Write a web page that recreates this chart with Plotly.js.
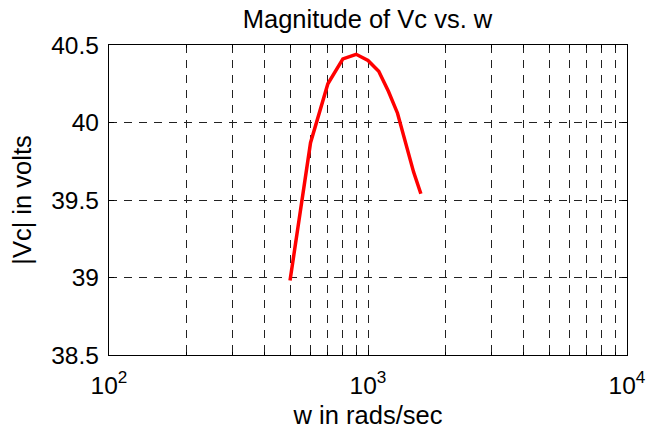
<!DOCTYPE html>
<html>
<head>
<meta charset="utf-8">
<script src="https://cdn.plot.ly/plotly-3.0.1.min.js"></script>
<style>html,body{margin:0;padding:0;background:#fff;} #plot{width:647px;height:432px;}</style>
</head>
<body>
<div id="plot"></div>
<script>
// Data
const wValues = [500, 600, 700, 800, 900, 1000, 1100, 1200, 1300, 1400, 1500, 1600];
const vcValues = [38.98, 39.87, 40.25, 40.41, 40.44, 40.40, 40.33, 40.20, 40.06, 39.87, 39.68, 39.54];
const xMajorTicks = [100, 1000, 10000];
const xMajorText = ['10<sup>2</sup>', '10<sup>3</sup>', '10<sup>4</sup>'];
const xMinorTicks = [200, 300, 400, 500, 600, 700, 800, 900, 2000, 3000, 4000, 5000, 6000, 7000, 8000, 9000];
const yTicks = [38.5, 39, 39.5, 40, 40.5];
const yTickText = ['38.5', '39', '39.5', '40', '40.5'];

const FONT = 'Liberation Sans, Arial, Helvetica, sans-serif';
const gridDash = '8px,7px';
const TICKSIZE = 24.5;
const TITLESIZE = 25.5;

const trace = {
  x: wValues, y: vcValues, type: 'scatter', mode: 'lines',
  line: {color: '#ff0000', width: 3.5}, showlegend: false, hoverinfo: 'skip'
};

const layout = {
  width: 647, height: 432,
  paper_bgcolor: '#ffffff', plot_bgcolor: '#ffffff',
  margin: {l: 109, r: 20, t: 45, b: 77, pad: 0},
  font: {family: FONT, size: TICKSIZE, color: '#000'},
  title: {text: 'Magnitude of Vc vs. w', font: {family: FONT, size: TITLESIZE, color: '#000'},
          x: 0.568, xanchor: 'center', y: 0.955, yanchor: 'middle'},
  xaxis: {
    type: 'log', range: [2, 4], autorange: false,
    tickmode: 'array', tickvals: xMajorTicks, ticktext: xMajorText,
    ticks: 'inside', ticklen: 5, tickwidth: 1, tickcolor: '#000',
    showline: true, linecolor: '#000', linewidth: 1.2, mirror: 'allticks',
    showgrid: true, gridcolor: '#222', gridwidth: 1, griddash: gridDash,
    zeroline: false, ticklabelstandoff: 8,
    tickfont: {family: FONT, size: TICKSIZE, color: '#000'},
    minor: {tickmode: 'array', tickvals: xMinorTicks, ticks: 'inside', ticklen: 3,
            tickcolor: '#000', showgrid: true, gridcolor: '#222', gridwidth: 1, griddash: gridDash},
    title: {text: 'w in rads/sec', font: {family: FONT, size: TITLESIZE, color: '#000'}, standoff: 8}
  },
  yaxis: {
    range: [38.5, 40.5], autorange: false,
    tickmode: 'array', tickvals: yTicks, ticktext: yTickText,
    ticks: 'inside', ticklen: 5, tickwidth: 1, tickcolor: '#000',
    showline: true, linecolor: '#000', linewidth: 1.2, mirror: 'allticks',
    showgrid: true, gridcolor: '#222', gridwidth: 1, griddash: gridDash,
    zeroline: false, ticklabelstandoff: 4,
    tickfont: {family: FONT, size: TICKSIZE, color: '#000'},
    title: {text: '|Vc| in volts', font: {family: FONT, size: TITLESIZE, color: '#000'}, standoff: 12}
  }
};

Plotly.newPlot('plot', [trace], layout, {displayModeBar: false, staticPlot: true});
</script>
</body>
</html>
